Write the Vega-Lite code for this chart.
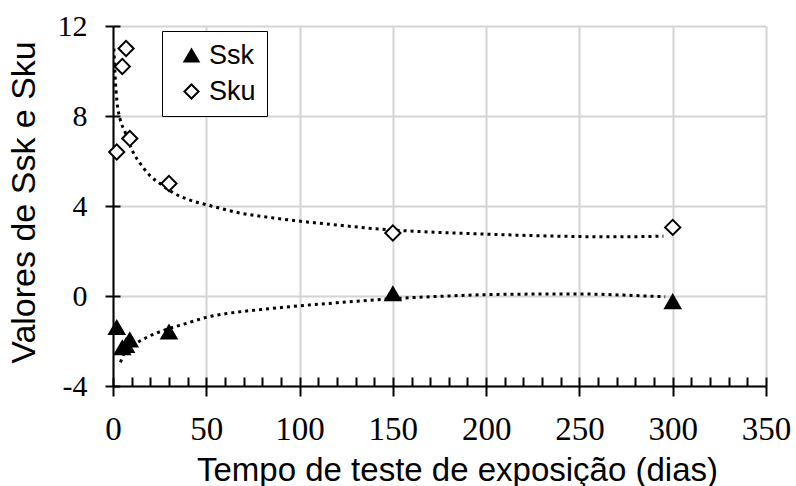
{
  "$schema": "https://vega.github.io/schema/vega-lite/v6.json",
  "width": 653,
  "height": 360,
  "autosize": {"type": "none"},
  "padding": {"left": 113, "top": 26, "right": 30, "bottom": 100},
  "background": "white",
  "config": {
    "view": {"stroke": null},
    "axis": {
      "labelColor": "#000", "titleColor": "#000", "tickColor": "#000", "domainColor": "#000",
      "labelFont": "Liberation Serif, Times New Roman, serif",
      "titleFont": "Liberation Sans, Arial, sans-serif"
    },
    "legend": {
      "title": null, "orient": "none", "legendX": 49, "legendY": 5,
      "fillColor": "white", "strokeColor": "#000", "padding": 11,
      "labelFont": "Liberation Sans, Arial, sans-serif", "labelFontSize": 27, "labelColor": "#000",
      "labelOffset": 4, "symbolOffset": 5, "rowPadding": 8,
      "symbolSize": 200, "symbolStrokeWidth": 2
    }
  },
  "datasets": {
    "measured": [
      {"series": "Ssk", "day": 2, "value": -1.4},
      {"series": "Ssk", "day": 5, "value": -2.3},
      {"series": "Ssk", "day": 7, "value": -2.2},
      {"series": "Ssk", "day": 9, "value": -1.95},
      {"series": "Ssk", "day": 30, "value": -1.6},
      {"series": "Ssk", "day": 150, "value": 0.1},
      {"series": "Ssk", "day": 300, "value": -0.25},
      {"series": "Sku", "day": 2, "value": 6.4},
      {"series": "Sku", "day": 5, "value": 10.2},
      {"series": "Sku", "day": 7, "value": 11.0},
      {"series": "Sku", "day": 9, "value": 7.0},
      {"series": "Sku", "day": 30, "value": 5.0},
      {"series": "Sku", "day": 150, "value": 2.8},
      {"series": "Sku", "day": 300, "value": 3.05}
    ],
    "trend": [
      {"series": "Sku", "day": 0.5, "value": 11.0},
      {"series": "Sku", "day": 0.9, "value": 10.2},
      {"series": "Sku", "day": 1.4, "value": 9.4},
      {"series": "Sku", "day": 2.2, "value": 8.6},
      {"series": "Sku", "day": 3.7, "value": 7.9},
      {"series": "Sku", "day": 6.4, "value": 7.3},
      {"series": "Sku", "day": 10.7, "value": 6.4},
      {"series": "Sku", "day": 14.5, "value": 5.9},
      {"series": "Sku", "day": 19.8, "value": 5.35},
      {"series": "Sku", "day": 26, "value": 4.95},
      {"series": "Sku", "day": 32, "value": 4.6},
      {"series": "Sku", "day": 41, "value": 4.27},
      {"series": "Sku", "day": 51, "value": 4.04},
      {"series": "Sku", "day": 68, "value": 3.69},
      {"series": "Sku", "day": 86, "value": 3.47},
      {"series": "Sku", "day": 104, "value": 3.29},
      {"series": "Sku", "day": 122, "value": 3.14},
      {"series": "Sku", "day": 139, "value": 3.0},
      {"series": "Sku", "day": 161, "value": 2.88},
      {"series": "Sku", "day": 197, "value": 2.76},
      {"series": "Sku", "day": 232, "value": 2.67},
      {"series": "Sku", "day": 268, "value": 2.63},
      {"series": "Sku", "day": 295, "value": 2.66},
      {"series": "Ssk", "day": 4, "value": -2.95},
      {"series": "Ssk", "day": 6, "value": -2.55},
      {"series": "Ssk", "day": 9, "value": -2.28},
      {"series": "Ssk", "day": 13.4, "value": -2.05},
      {"series": "Ssk", "day": 19, "value": -1.8},
      {"series": "Ssk", "day": 26, "value": -1.56},
      {"series": "Ssk", "day": 40, "value": -1.2},
      {"series": "Ssk", "day": 50, "value": -0.95},
      {"series": "Ssk", "day": 61, "value": -0.78},
      {"series": "Ssk", "day": 77, "value": -0.62},
      {"series": "Ssk", "day": 93, "value": -0.49},
      {"series": "Ssk", "day": 120, "value": -0.3},
      {"series": "Ssk", "day": 154, "value": -0.1},
      {"series": "Ssk", "day": 179, "value": 0.0},
      {"series": "Ssk", "day": 214, "value": 0.08},
      {"series": "Ssk", "day": 250, "value": 0.09},
      {"series": "Ssk", "day": 286, "value": 0.0},
      {"series": "Ssk", "day": 296, "value": -0.03}
    ]
  },
  "resolve": {"axis": {"x": "independent", "y": "independent"}},
  "layer": [
    {
      "data": {"name": "trend"},
      "mark": {"type": "line", "color": "#000", "strokeWidth": 3, "strokeDash": [3, 4], "interpolate": "monotone", "clip": true},
      "encoding": {
        "x": {
          "field": "day", "type": "quantitative",
          "scale": {"domain": [0, 350], "nice": false, "zero": false},
          "axis": {
            "orient": "bottom",
            "values": [0, 50, 100, 150, 200, 250, 300, 350],
            "title": "Tempo de teste de exposição (dias)",
            "titleFont": "Liberation Sans, Arial, sans-serif", "titleFontSize": 33, "titleFontWeight": "normal",
            "titlePadding": 8, "titleX": 344, "titleAlign": "center",
            "labelFont": "Liberation Serif, Times New Roman, serif", "labelFontSize": 33, "labelPadding": 17,
            "labelFlush": false, "labelOverlap": false,
            "tickSize": 10, "tickWidth": 2, "domainWidth": 2,
            "grid": true, "gridColor": "#d4d4d4", "gridWidth": 2
          }
        },
        "y": {
          "field": "value", "type": "quantitative",
          "scale": {"domain": [-4, 12], "nice": false, "zero": false},
          "axis": {
            "orient": "left",
            "values": [-4, 0, 4, 8, 12],
            "labelExpr": "replace(datum.label, '−', '-')",
            "title": "Valores de Ssk e Sku",
            "titleFont": "Liberation Sans, Arial, sans-serif", "titleFontSize": 34, "titleFontWeight": "normal",
            "titlePadding": 16, "titleY": 176, "titleAlign": "center",
            "labelFont": "Liberation Serif, Times New Roman, serif", "labelFontSize": 30, "labelPadding": 18,
            "labelFlush": false, "labelOverlap": false,
            "tickSize": 8, "tickWidth": 2, "domainWidth": 2,
            "grid": true, "gridColor": "#d4d4d4", "gridWidth": 2
          }
        },
        "detail": {"field": "series"}
      }
    },
    {
      "data": {"name": "measured"},
      "mark": {"type": "point", "strokeWidth": 2, "opacity": 1, "size": 230},
      "encoding": {
        "x": {
          "field": "day", "type": "quantitative",
          "axis": {
            "orient": "bottom",
            "values": [0, 10, 20, 30, 40, 50, 60, 70, 80, 90, 100, 110, 120, 130, 140, 150, 160, 170, 180, 190, 200, 210, 220, 230, 240, 250, 260, 270, 280, 290, 300, 310, 320, 330, 340, 350],
            "title": null, "labels": false, "domain": false, "grid": false,
            "tickSize": -9, "tickWidth": 2
          }
        },
        "y": {
          "field": "value", "type": "quantitative",
          "axis": {
            "orient": "left",
            "values": [-4, 0, 4, 8, 12],
            "title": null, "labels": false, "domain": false, "grid": false,
            "tickSize": -7, "tickWidth": 2
          }
        },
        "shape": {
          "field": "series", "type": "nominal",
          "scale": {"domain": ["Ssk", "Sku"], "range": ["triangle-up", "diamond"]},
          "legend": {"encode": {"legend": {"update": {"strokeWidth": {"value": 2}}}}}
        },
        "fill": {
          "field": "series", "type": "nominal",
          "scale": {"domain": ["Ssk", "Sku"], "range": ["#000", "#fff"]},
          "legend": {"encode": {"legend": {"update": {"strokeWidth": {"value": 2}}}}}
        },
        "stroke": {
          "field": "series", "type": "nominal",
          "scale": {"domain": ["Ssk", "Sku"], "range": ["#000", "#000"]},
          "legend": {"encode": {"legend": {"update": {"strokeWidth": {"value": 2}}}}}
        }
      }
    }
  ]
}
